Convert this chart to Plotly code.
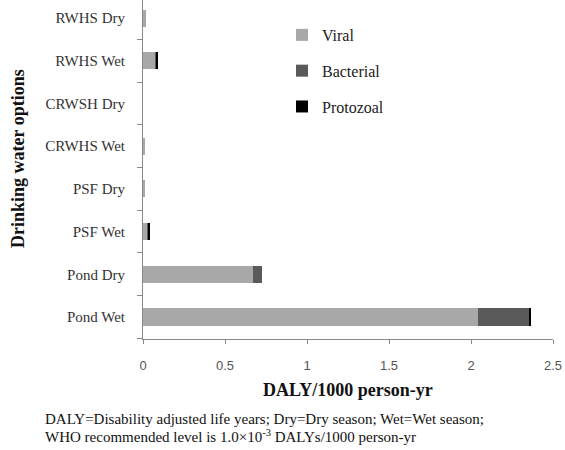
import plotly.graph_objects as go

categories = ["Pond Wet", "Pond Dry", "PSF Wet", "PSF Dry", "CRWHS Wet", "CRWSH Dry", "RWHS Wet", "RWHS Dry"]
viral = [2.04, 0.672, 0.022, 0.015, 0.007, 0.0, 0.079, 0.017]
bacterial = [0.315, 0.051, 0.013, 0.0, 0.0, 0.0, 0.006, 0.0]
protozoal = [0.005, 0.0, 0.003, 0.0, 0.0, 0.0, 0.004, 0.0]

x_ticks = [0, 0.5, 1, 1.5, 2, 2.5]
x_tick_labels = ["0", "0.5", "1", "1.5", "2", "2.5"]

serif = "Liberation Serif"
sans = "Liberation Sans"

fig = go.Figure()
series = [("Viral", viral, "#a8a8a8"), ("Bacterial", bacterial, "#5a5a5a"), ("Protozoal", protozoal, "#000000")]
for i, (name, vals, col) in enumerate(series):
    fig.add_trace(go.Bar(
        y=categories, x=vals, name=name, orientation="h",
        marker=dict(color=col, line=dict(width=0)), width=0.4,
        legendgroup=f"g{i}",
    ))

fig.update_layout(
    barmode="stack",
    width=565, height=450,
    margin=dict(l=143, r=12, t=0, b=111, autoexpand=False),
    paper_bgcolor="white", plot_bgcolor="white",
    showlegend=True,
    legend=dict(x=0.339, y=0.947, xanchor="left", yanchor="top",
                font=dict(family=serif, size=16, color="#222"),
                tracegroupgap=12, bgcolor="rgba(0,0,0,0)",
                itemwidth=30),
    xaxis=dict(range=[0, 2.5], tickvals=x_ticks, ticktext=x_tick_labels, automargin=False,
               showgrid=False, zeroline=False, showline=True, linecolor="#888", linewidth=1,
               ticks="outside", ticklen=4, tickcolor="#888", ticklabelstandoff=10,
               tickfont=dict(family=sans, size=13, color="#555")),
    yaxis=dict(categoryorder="array", categoryarray=categories, range=[-0.515, 7.425], automargin=False,
               showgrid=False, zeroline=False, showline=True, linecolor="#888", linewidth=1,
               ticks="outside", ticklen=5, tickcolor="#888", tickson="boundaries",
               ticklabelstandoff=14,
               tickfont=dict(family=serif, size=15, color="#333")),
)

fig.add_annotation(xref="paper", yref="paper", x=0.5, y=-0.1504, xanchor="center", yanchor="middle",
                   showarrow=False, text="<b>DALY/1000 person-yr</b>",
                   font=dict(family=serif, size=18, color="#111"))
fig.add_annotation(xref="paper", yref="paper", x=-0.3049, y=0.534, xanchor="center", yanchor="middle",
                   showarrow=False, textangle=-90, text="<b>Drinking water options</b>",
                   font=dict(family=serif, size=18, color="#111"))
fig.add_annotation(xref="paper", yref="paper", x=-0.2439, y=-0.236, xanchor="left", yanchor="middle",
                   showarrow=False,
                   text="DALY=Disability adjusted life years; Dry=Dry season; Wet=Wet season;",
                   font=dict(family=serif, size=15, color="#111"))
fig.add_annotation(xref="paper", yref="paper", x=-0.2439, y=-0.286, xanchor="left", yanchor="middle",
                   showarrow=False,
                   text="WHO recommended level is 1.0×10<sup>-3</sup> DALYs/1000 person-yr",
                   font=dict(family=serif, size=15, color="#111"))

fig.write_html("out.html", config={"displayModeBar": False},
               post_script="document.body.style.margin='0';document.body.style.overflow='hidden';")
